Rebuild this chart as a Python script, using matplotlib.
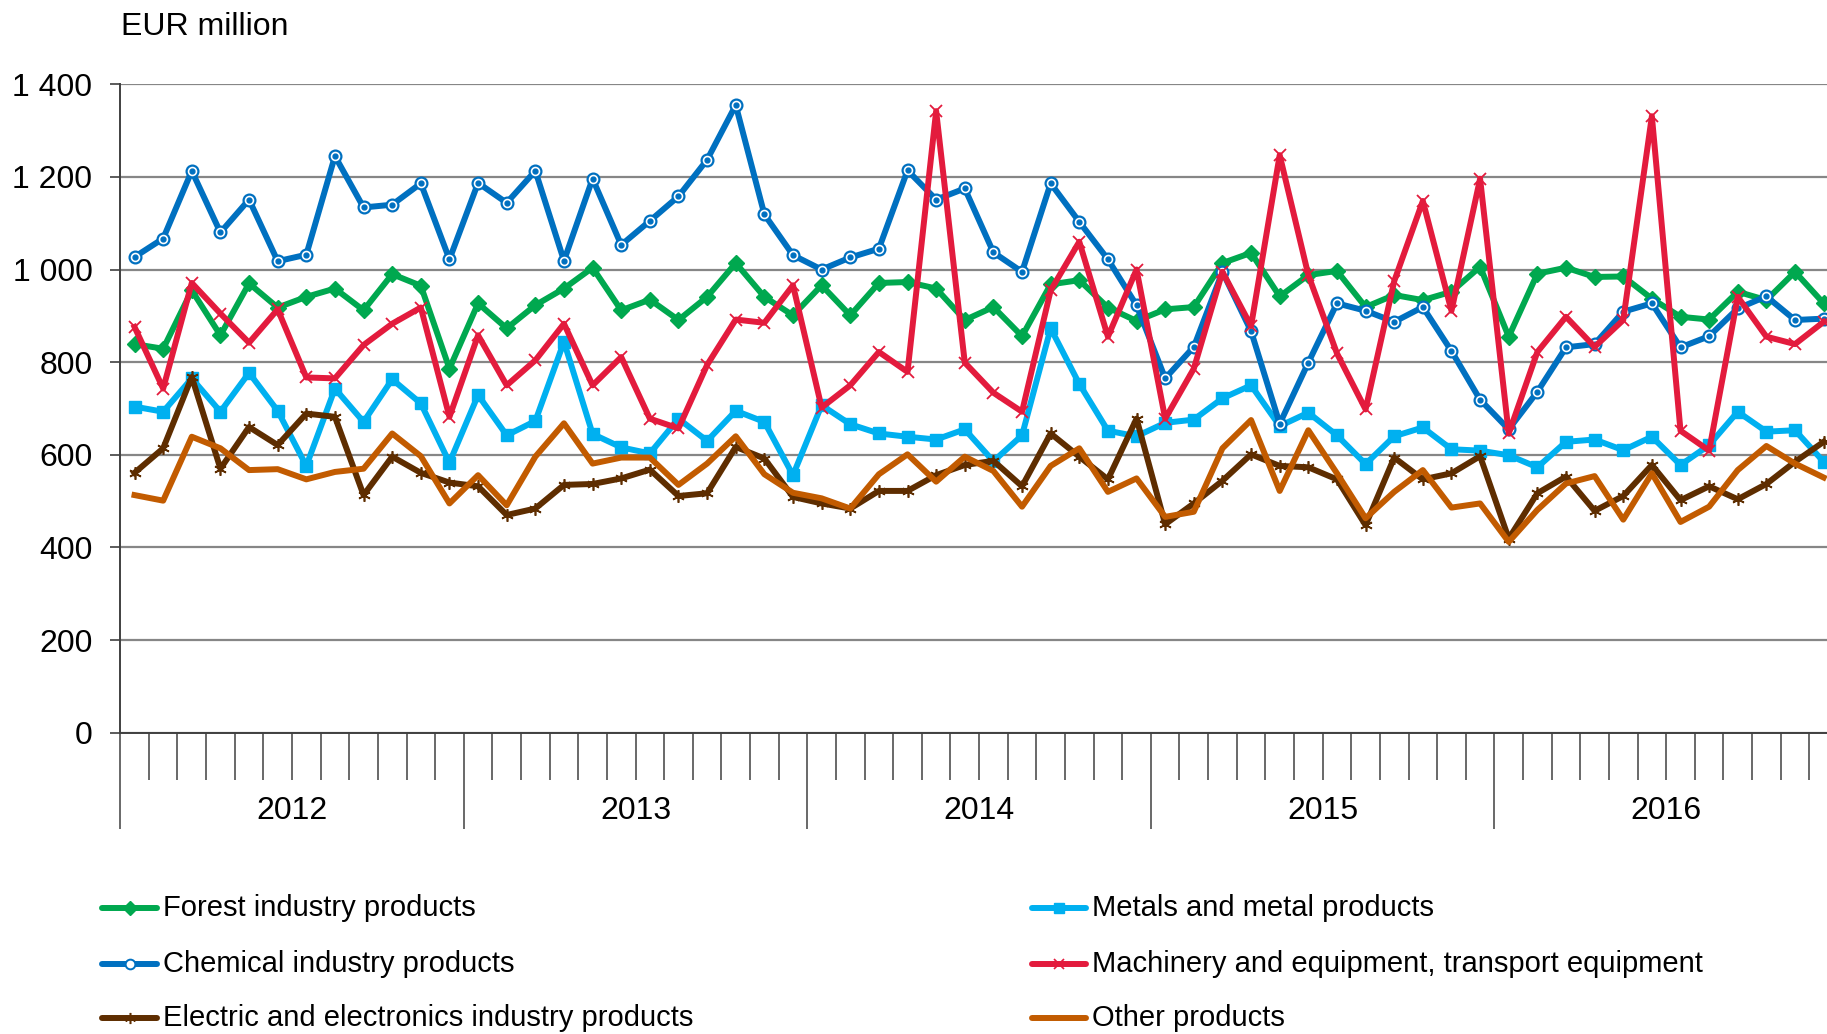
import matplotlib
matplotlib.use("Agg")
import matplotlib.pyplot as plt
from matplotlib.lines import Line2D
from matplotlib.ticker import FuncFormatter, MultipleLocator
import numpy as np

plt.rcParams['font.family'] = ['Liberation Sans', 'DejaVu Sans']

### Data (EUR million, monthly Jan 2012 - Dec 2016)
years = ["2012", "2013", "2014", "2015", "2016"]

forest = [839, 829, 955, 858, 970, 918, 941, 959, 912, 990, 965, 786,
          927, 873, 923, 959, 1004, 912, 935, 891, 941, 1014, 941, 901,
          966, 901, 971, 973, 959, 891, 919, 856, 968, 977, 918, 889,
          914, 919, 1014, 1036, 942, 988, 997, 919, 945, 934, 952, 1006,
          855, 991, 1004, 984, 985, 937, 898, 892, 952, 934, 995, 927]

metals = [704, 693, 765, 693, 777, 695, 576, 743, 671, 763, 711, 583,
          729, 642, 673, 844, 645, 616, 603, 678, 630, 695, 671, 556,
          707, 666, 646, 639, 633, 655, 586, 642, 873, 753, 652, 640,
          669, 676, 722, 750, 662, 691, 642, 580, 640, 659, 612, 609,
          599, 573, 628, 633, 610, 639, 578, 621, 693, 650, 653, 585]

chemical = [1027, 1067, 1213, 1080, 1151, 1018, 1032, 1245, 1134, 1140, 1186, 1022,
            1187, 1144, 1213, 1019, 1196, 1053, 1105, 1158, 1237, 1355, 1119, 1031,
            1000, 1026, 1045, 1214, 1151, 1175, 1037, 995, 1186, 1103, 1022, 923,
            765, 833, 995, 867, 667, 799, 927, 911, 887, 919, 824, 719,
            655, 736, 832, 839, 909, 927, 832, 856, 916, 942, 891, 894]

machinery = [876, 743, 971, 905, 842, 914, 767, 765, 837, 883, 918, 682,
             858, 750, 804, 883, 750, 811, 678, 657, 794, 892, 885, 966,
             702, 750, 822, 779, 1342, 799, 734, 693, 955, 1060, 855, 1000,
             678, 786, 995, 878, 1247, 988, 819, 698, 975, 1148, 911, 1196,
             646, 822, 898, 833, 891, 1331, 652, 609, 941, 855, 839, 887]

electric = [561, 614, 768, 570, 660, 621, 689, 682, 513, 596, 561, 540,
            532, 470, 484, 535, 537, 549, 568, 511, 517, 617, 592, 509,
            495, 484, 522, 522, 556, 578, 587, 532, 646, 596, 547, 678,
            450, 495, 544, 601, 576, 573, 547, 448, 594, 547, 560, 597,
            419, 517, 553, 479, 511, 578, 502, 532, 504, 537, 585, 628]

other = [513, 501, 639, 614, 567, 569, 547, 563, 570, 646, 597, 495,
         556, 491, 596, 668, 581, 594, 594, 535, 581, 640, 558, 518,
         506, 484, 558, 601, 542, 596, 565, 488, 576, 614, 520, 549,
         466, 477, 614, 675, 522, 653, 560, 463, 520, 567, 486, 495,
         412, 481, 538, 554, 460, 560, 455, 488, 567, 619, 581, 551]

labels = ["Forest industry products", "Metals and metal products",
          "Chemical industry products", "Machinery and equipment, transport equipment",
          "Electric and electronics industry products", "Other products"]

GREEN = '#00A84F'
CYAN = '#00B0F0'
BLUE = '#0070C0'
RED = '#E31B3D'
BROWN = '#5E2D00'
ORANGE = '#C25B00'
GRID = '#868686'
AXC = '#404040'
LW = 4.3

fig = plt.figure(figsize=(18.27, 10.34), dpi=100)
# right edge runs past the figure, as in the reference (last month is cut off)
ax = fig.add_axes([0.0658, 0.2914, 0.9402, 0.6271])

x = np.arange(len(forest)) + 0.5

ax.plot(x, forest, color=GREEN, lw=LW, marker='D', ms=8.5, zorder=3)
ax.plot(x, metals, color=CYAN, lw=LW, marker='s', ms=9, zorder=4)
ax.plot(x, chemical, color=BLUE, lw=LW, marker='o', ms=8.5, mfc='white', mec=BLUE, mew=1.6, zorder=5)
ax.plot(x, chemical, color=BLUE, lw=0, marker='o', ms=3.5, zorder=5)
ax.plot(x, machinery, color=RED, lw=LW, marker='x', ms=8, mew=1.3, zorder=6)
ax.plot(x, electric, color=BROWN, lw=LW, marker=(6, 2, 0), ms=9, mew=1.2, zorder=7)
ax.plot(x, other, color=ORANGE, lw=LW, zorder=8)

ax.set_xlim(0, 60)
ax.set_ylim(0, 1400)

# grid
ax.yaxis.set_major_locator(MultipleLocator(200))
ax.yaxis.grid(True, color=GRID, lw=1.6)
ax.set_axisbelow(True)
ax.yaxis.set_major_formatter(FuncFormatter(lambda v, p: f"{v:,.0f}".replace(",", " ")))

for s in ['top', 'right']:
    ax.spines[s].set_visible(False)
for s in ['left', 'bottom']:
    ax.spines[s].set_color(AXC)
    ax.spines[s].set_linewidth(1.4)

ax.tick_params(axis='y', direction='out', length=7, width=1.2, color=AXC,
               labelsize=23, pad=13)

# months and year boundaries
ax.xaxis.set_major_locator(MultipleLocator(12))
ax.xaxis.set_minor_locator(MultipleLocator(1))
ax.tick_params(axis='x', which='major', direction='out', length=69, width=1.1, color=AXC,
               labelbottom=False)
ax.tick_params(axis='x', which='minor', direction='out', length=34, width=1.1, color=AXC)

for k, yr in enumerate(years):
    ax.text(12 * k + 6, -0.12, yr, transform=ax.get_xaxis_transform(),
            ha='center', va='center', fontsize=23)

fig.text(0.0662, 0.974, "EUR million", fontsize=23, ha='left', va='center')

### Legend drawn by hand, two columns of three
styles = [
    dict(color=GREEN, marker='D', ms=7),
    dict(color=CYAN, marker='s', ms=7.5),
    dict(color=BLUE, marker='o', ms=7, mfc='white', mec=BLUE, mew=1.4),
    dict(color=RED, marker='x', ms=7, mew=1.2),
    dict(color=BROWN, marker=(6, 2, 0), ms=8, mew=1.1),
    dict(color=ORANGE),
]
row_y = [0.1222, 0.0681, 0.0151]
col_x = [(0.0561, 0.0859, 0.0892), (0.5649, 0.5944, 0.5977)]
for n, (lab, st) in enumerate(zip(labels, styles)):
    c = n % 2
    r = n // 2
    x0, x1, xt = col_x[c]
    yy = row_y[r]
    fig.add_artist(Line2D([x0, x1], [yy, yy], transform=fig.transFigure, lw=LW,
                          solid_capstyle='round', color=st['color']))
    if 'marker' in st:
        fig.add_artist(Line2D([(x0 + x1) / 2], [yy], transform=fig.transFigure, lw=0, **st))
    fig.text(xt, yy, lab, fontsize=21, ha='left', va='center')

fig.savefig("out.png", dpi=100)
